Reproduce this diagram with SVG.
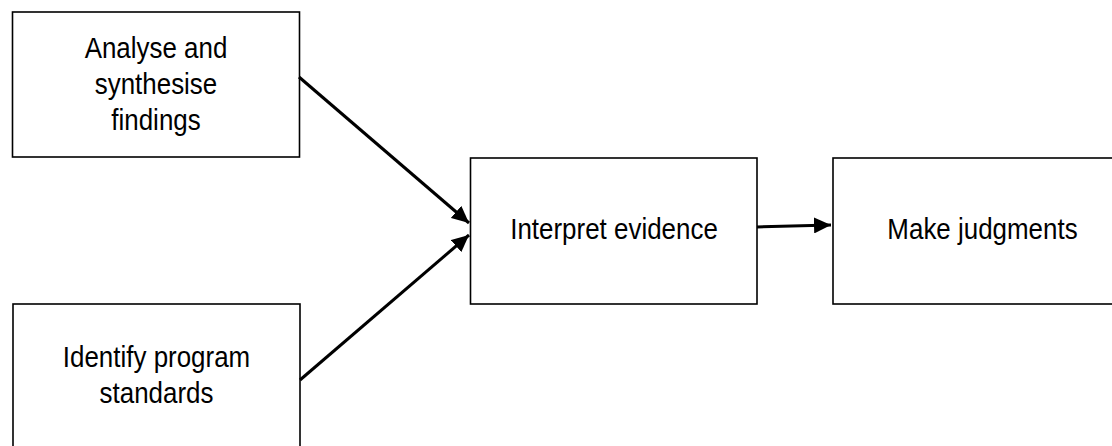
<svg xmlns="http://www.w3.org/2000/svg" width="1112" height="446" viewBox="0 0 1112 446">
<style>
.box{fill:#fff;stroke:#000;stroke-width:1.6}
.lbl{font-family:"Liberation Sans",Arial,sans-serif;font-size:30px;fill:#000;text-anchor:middle}
.conn{stroke:#000;stroke-width:3;fill:none}
</style>
<defs>
<marker id="arr" markerUnits="userSpaceOnUse" markerWidth="18" markerHeight="16" refX="17" refY="8" orient="auto">
<path d="M0,0 L17,8 L0,16 Z" fill="#000"/>
</marker>
</defs>
<rect width="1112" height="446" fill="#fff"/>
<g id="n1">
<rect class="box" x="12.5" y="12" width="287" height="145"/>
<text class="lbl" transform="translate(156,58) scale(0.865,1)">Analyse and</text>
<text class="lbl" transform="translate(156,94) scale(0.865,1)">synthesise</text>
<text class="lbl" transform="translate(156,130) scale(0.865,1)">findings</text>
</g>
<g id="n2">
<rect class="box" x="13" y="304" width="287" height="160"/>
<text class="lbl" transform="translate(156.5,367) scale(0.865,1)">Identify program</text>
<text class="lbl" transform="translate(156.5,403) scale(0.865,1)">standards</text>
</g>
<g id="n3">
<rect class="box" x="470.5" y="158" width="286.5" height="146"/>
<text class="lbl" transform="translate(614,239) scale(0.865,1)">Interpret evidence</text>
</g>
<g id="n4">
<rect class="box" x="833" y="158" width="300" height="146"/>
<text class="lbl" transform="translate(982.5,239) scale(0.865,1)">Make judgments</text>
</g>
<g id="connectors">
<path class="conn" d="M299,77 L469,223" marker-end="url(#arr)"/>
<path class="conn" d="M300,380 L469,235" marker-end="url(#arr)"/>
<path class="conn" d="M757,227 L831,225" marker-end="url(#arr)"/>
</g>
</svg>
